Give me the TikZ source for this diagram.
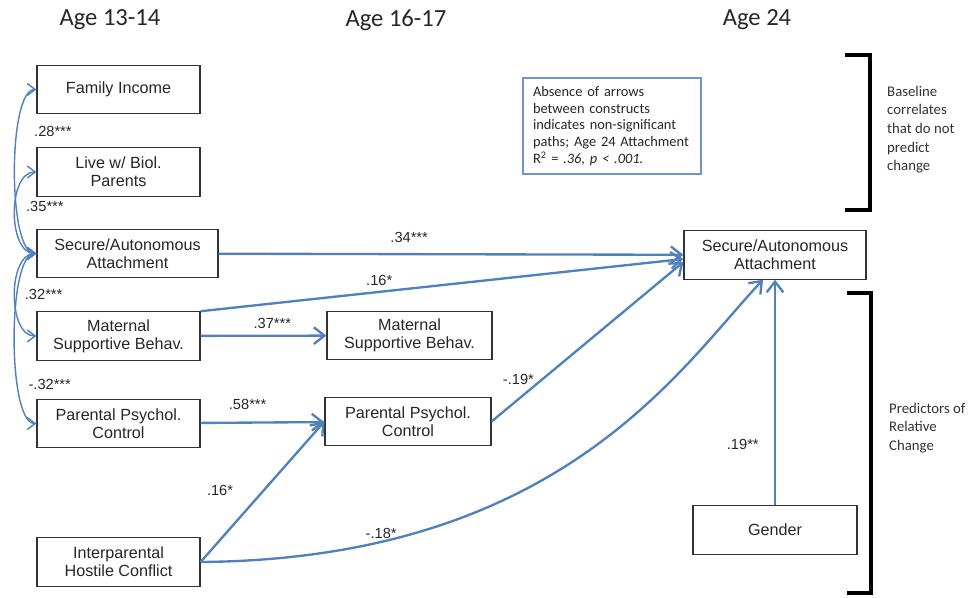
\documentclass[tikz,border=0pt]{standalone}
\usepackage{fontspec}
\setmainfont{Liberation Sans}
\newfontfamily\calib{Carlito}
\usetikzlibrary{arrows.meta}
\definecolor{linkblue}{RGB}{79,129,189}
\definecolor{noteblue}{RGB}{110,150,205}

\begin{document}
\begin{tikzpicture}[x=0.03cm, y=0.03cm,
    box/.style={rectangle, draw=black!80, line width=1pt, minimum height=1.45cm, inner sep=0pt, align=center, text=black!85, font=\fontsize{13.8}{15.6}\selectfont},
    link/.style={-{Straight Barb[length=3.2mm,width=5mm]}, draw=linkblue, line width=2pt},
    corr/.style={{Straight Barb[length=2.4mm,width=3.6mm]}-{Straight Barb[length=2.4mm,width=3.6mm]}, draw=linkblue, line width=1.2pt},
    lbl/.style={inner sep=1pt, text=black!85, font=\fontsize{12.5}{14}\selectfont},
    age/.style={text=black!85, font=\calib\fontsize{21}{25}\selectfont},
    note/.style={draw=noteblue, line width=1pt, minimum width=5.34cm, minimum height=2.88cm, text width=4.74cm, inner xsep=0.3cm, align=left, text=black!85, font=\calib\fontsize{12.3}{14.3}\selectfont},
    side/.style={anchor=north west, inner sep=0pt, align=left, text=black!80, font=\calib\fontsize{12.6}{15.8}\selectfont},
    bracket/.style={line width=2.6pt}
]
\useasboundingbox (0,0) rectangle (976,-598);

% Headers
\node[age] (age1) at (110,-20) {Age 13-14};
\node[age] (age2) at (396,-20) {Age 16-17};
\node[age] (age3) at (757,-20) {Age 24};

% Age 13-14
\node[box, minimum width=4.89cm] (famL) at (118.5,-89.5) {Family Income};
\node[box, minimum width=4.89cm] (liveL) at (118.5,-172) {Live w/ Biol.\\Parents};
\node[box, minimum width=5.43cm] (secL) at (127.5,-253.5) {Secure/Autonomous\\Attachment};
\node[box, minimum width=4.89cm] (matL) at (118.5,-336) {Maternal\\Supportive Behav.};
\node[box, minimum width=4.89cm] (parL) at (118.5,-423.5) {Parental Psychol.\\Control};
\node[box, minimum width=4.89cm] (confL) at (118.5,-562) {Interparental\\Hostile Conflict};

% Age 16-17
\node[box, minimum width=4.95cm] (matM) at (409.5,-335.5) {Maternal\\Supportive Behav.};
\node[box, minimum width=4.98cm] (parM) at (408,-421.5) {Parental Psychol.\\Control};

% Age 24
\node[box, minimum width=5.46cm] (secR) at (775,-255) {Secure/Autonomous\\Attachment};
\node[box, minimum width=4.92cm] (gender) at (775,-530) {Gender};

% Note
\node[note] (note) at (612,-126) {Absence of arrows\\between constructs\\indicates non-significant\\paths; Age 24 Attachment\\R\textsuperscript{2} = \textit{.36, p < .001.}};

% Brackets
\draw[bracket] (845,-55) -- (870,-55) -- (870,-210) -- (845,-210);
\draw[bracket] (847,-293) -- (871,-293) -- (871,-593) -- (847,-593);
\node[side] (base) at (887,-86) {Baseline\\correlates\\that do not\\predict\\change};
\node[side] (pred) at (889,-403) {Predictors of\\Relative\\Change};

% Correlations
\draw[corr] (famL.west) to[out=180, in=180, looseness=0.45] node[lbl, pos=0.33, anchor=west, xshift=0.45cm] {.28***} (secL.west);
\draw[corr] (liveL.west) to[out=180, in=180, looseness=0.91] node[lbl, pos=0.45, anchor=west, xshift=0.28cm] {.35***} (secL.west);
\draw[corr] (secL.west) to[out=180, in=180, looseness=0.9] node[lbl, pos=0.5, anchor=west, xshift=0.25cm] {.32***} (matL.west);
\draw[corr] (secL.west) to[out=180, in=180, looseness=0.44] node[lbl, pos=0.69, anchor=west, xshift=0.27cm] {-.32***} (parL.west);

% Paths
\draw[link] (secL) -- node[lbl, pos=0.41, above=0.27cm] {.34***} (secR);
\draw[link] (matL.north east) -- node[lbl, pos=0.37, above=0.13cm] {.16*} ([yshift=-0.12cm]secR.west);
\draw[link] (matL) -- node[lbl, pos=0.57, above=0.13cm] {.37***} (matM);
\draw[link] (parL) -- node[lbl, pos=0.38, above=0.33cm] {.58***} (parM);
\draw[link] (confL.east) -- node[lbl, pos=0.51, left=0.85cm] {.16*} (parM.west);
\draw[link] (parM.east) -- node[lbl, pos=0.14, above=0.38cm] {-.19*} ([yshift=-0.21cm]secR.west);
\draw[link] (confL.east) .. controls +(360,3) and +(-83,-88) .. node[lbl, pos=0.19, above=0.03cm] {-.18*} ([xshift=-0.36cm]secR.south);
\draw[link] (gender) -- node[lbl, pos=0.27, left=0.42cm] {.19**} (secR);

\end{tikzpicture}
\end{document}
